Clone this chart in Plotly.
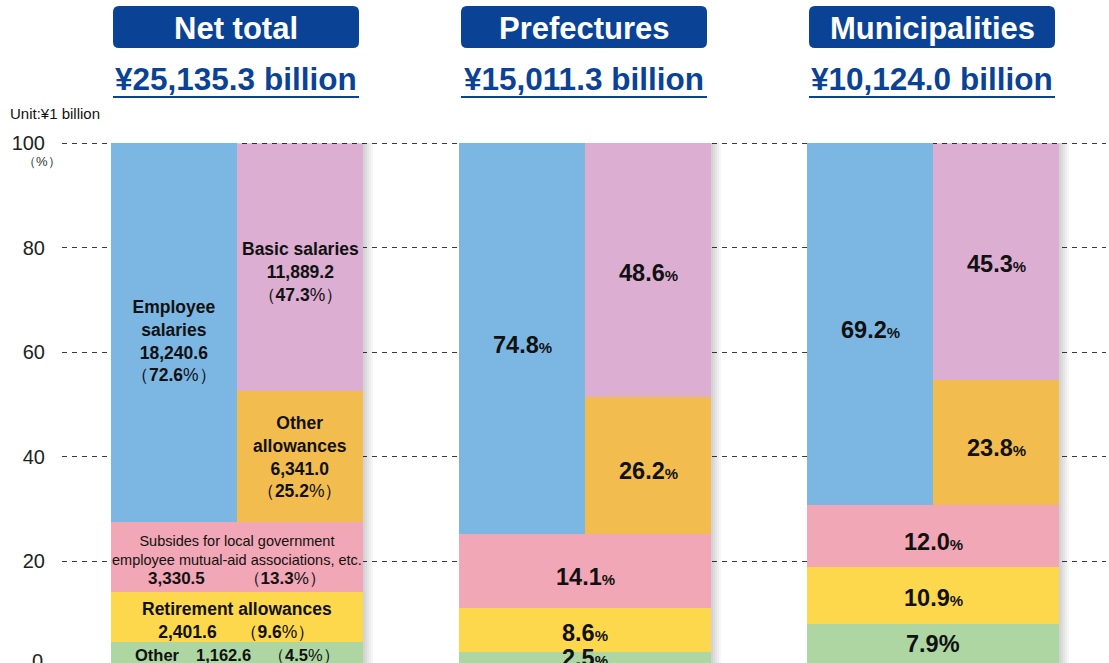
import plotly.graph_objects as go

# ---------------- data ----------------
groups = ["Net total", "Prefectures", "Municipalities"]
group_totals = ["¥25,135.3 billion", "¥15,011.3 billion", "¥10,124.0 billion"]

other_pct = [4.5, 2.5, 7.9]
retirement_pct = [9.6, 8.6, 10.9]
subsidies_pct = [13.3, 14.1, 12.0]
employee_pct = [72.6, 74.8, 69.2]
other_allow_pct = [25.2, 26.2, 23.8]
basic_pct = [47.3, 48.6, 45.3]

# Net total amounts (unit: ¥1 billion)
employee_amt = 18240.6
basic_amt = 11889.2
other_allow_amt = 6341.0
subsidies_amt = 3330.5
retirement_amt = 2401.6
other_amt = 1162.6

y_ticks = [20, 40, 60, 80, 100]
y_tick_text = ["20", "40", "60", "80", "100"]

# ---------------- layout constants ----------------
W, H = 1109, 663
ML, MR = 62, 3
GROUP_PX = 348.0          # pixels per group step
FIRST_CENTER_PX = 237.0   # pixel x of first group centre
Y_PX = 5.225              # pixels per percentage point
Y0_PX = 665.5             # pixel y of value 0
COL_W = 252.0 / GROUP_PX
HALF_W = COL_W / 2.0

C_BLUE = "#7CB7E3"
C_PURPLE = "#DBAED2"
C_ORANGE = "#F2BD4E"
C_PINK = "#F2A7B6"
C_YELLOW = "#FED84C"
C_GREEN = "#ADD6A3"
C_NAVY = "#0A4396"
C_TEXT = "#111111"
FONT = "Liberation Sans, Arial, Helvetica, sans-serif"


def xu(px):
    return px / GROUP_PX


def yu(px):
    return px / Y_PX


def yv(py):
    return (Y0_PX - py) / Y_PX


def xp(px):  # pixel x -> paper x
    return (px - ML) / (W - ML - MR)


def ypp(py):  # pixel y -> paper y
    return 1 - py / H


idx = list(range(len(groups)))
base_ret = other_pct
base_sub = [a + b for a, b in zip(other_pct, retirement_pct)]
base_top = [a + b + c for a, b, c in zip(other_pct, retirement_pct, subsidies_pct)]
base_basic = [a + b for a, b in zip(base_top, other_allow_pct)]

fig = go.Figure()

# soft drop shadows to the right of each column
for off in [2, 4, 6, 8, 10]:
    fig.add_trace(go.Bar(
        x=[i + xu(off) for i in idx],
        y=[b + e for b, e in zip(base_top, employee_pct)],
        base=[0] * 3, width=COL_W,
        marker=dict(color="rgba(0,0,0,0.035)", line=dict(width=0)),
        hoverinfo="skip", showlegend=False))


def add_bar(xs, vals, bases, width, color):
    fig.add_trace(go.Bar(
        x=xs, y=vals, base=bases, width=width,
        marker=dict(color=color, line=dict(width=0)),
        hoverinfo="skip", showlegend=False))


add_bar(idx, other_pct, [0] * 3, COL_W, C_GREEN)
add_bar(idx, retirement_pct, base_ret, COL_W, C_YELLOW)
add_bar(idx, subsidies_pct, base_sub, COL_W, C_PINK)
add_bar([i - HALF_W / 2 for i in idx], employee_pct, base_top, HALF_W, C_BLUE)
add_bar([i + HALF_W / 2 for i in idx], other_allow_pct, base_top, HALF_W, C_ORANGE)
add_bar([i + HALF_W / 2 for i in idx], basic_pct, base_basic, HALF_W, C_PURPLE)

annotations = []


def ann(x, y, text, size, color=C_TEXT, family=FONT, **kw):
    d = dict(x=x, y=y, xref="x", yref="y", text=text, showarrow=False,
             font=dict(size=size, color=color, family=family))
    d.update(kw)
    annotations.append(d)


# ---- Net total detailed labels ----
ann(0 - HALF_W / 2, base_top[0] + employee_pct[0] / 2 - 1.6,
    f"<b>Employee<br>salaries<br>{employee_amt:,.1f}</b><br>（<b>{employee_pct[0]:.1f}</b>%）", 17.5)
ann(0 + HALF_W / 2, base_basic[0] + basic_pct[0] / 2 - 0.9,
    f"<b>Basic salaries<br>{basic_amt:,.1f}</b><br>（<b>{basic_pct[0]:.1f}</b>%）", 17.5)
ann(0 + HALF_W / 2, base_top[0] + other_allow_pct[0] / 2,
    f"<b>Other<br>allowances<br>{other_allow_amt:,.1f}</b><br>（<b>{other_allow_pct[0]:.1f}</b>%）", 17.5)
ann(0, base_sub[0] + subsidies_pct[0] / 2 - 0.6,
    "Subsides for local government<br>employee mutual-aid associations, etc.<br>"
    f"<span style='font-size:17px'><b>{subsidies_amt:,.1f}</b>　　 （<b>{subsidies_pct[0]:.1f}</b>%）</span>", 14.5)
ann(0, base_ret[0] + retirement_pct[0] / 2 - 0.6,
    f"<b>Retirement allowances<br>{retirement_amt:,.1f}</b>　 （<b>{retirement_pct[0]:.1f}</b>%）", 17.5)
ann(0, other_pct[0] / 2 - 0.3,
    f"<b>Other　{other_amt:,.1f}</b>　（<b>{other_pct[0]:.1f}</b>%）", 16.5)


def big(v, small=True):
    pct = "<span style='font-size:15px'>%</span>" if small else "%"
    return f"<b>{v:.1f}{pct}</b>"


for i in [1, 2]:
    ann(i - HALF_W / 2, base_top[i] + employee_pct[i] / 2 - 1.2, big(employee_pct[i]), 23.5)
    ann(i + HALF_W / 2, base_basic[i] + basic_pct[i] / 2 - 0.5, big(basic_pct[i]), 23.5)
    ann(i + HALF_W / 2, base_top[i] + other_allow_pct[i] / 2 - 1.0, big(other_allow_pct[i]), 23.5)
    ann(i, base_sub[i] + subsidies_pct[i] / 2 - 1.2, big(subsidies_pct[i]), 23.5)
    ann(i, base_ret[i] + retirement_pct[i] / 2 - 0.5, big(retirement_pct[i]), 23.5)
    ann(i, other_pct[i] / 2 + 0.2, big(other_pct[i], small=(i == 1)), 23.5)

# ---- headers ----
shapes = []
BOX_L, BOX_R, BOX_T, BOX_B, R = -124.0, 122.0, 6.0, 48.0, 6.0
for i, (g, tot) in enumerate(zip(groups, group_totals)):
    x0, x1 = i + xu(BOX_L), i + xu(BOX_R)
    yt, yb = yv(BOX_T), yv(BOX_B)
    rx, ry = xu(R), yu(R)
    path = (f"M {x0 + rx},{yt} L {x1 - rx},{yt} Q {x1},{yt} {x1},{yt - ry} "
            f"L {x1},{yb + ry} Q {x1},{yb} {x1 - rx},{yb} "
            f"L {x0 + rx},{yb} Q {x0},{yb} {x0},{yb + ry} "
            f"L {x0},{yt - ry} Q {x0},{yt} {x0 + rx},{yt} Z")
    shapes.append(dict(type="path", path=path, xref="x", yref="y",
                       fillcolor=C_NAVY, line=dict(width=0), layer="above"))
    ann(i + xu((BOX_L + BOX_R) / 2), yv(28), f"<b>{g}</b>", 31, color="white")
    ann(i + xu((BOX_L + BOX_R) / 2), yv(79), f"<b>{tot}</b>", 31.5, color=C_NAVY)
    shapes.append(dict(type="line", xref="x", yref="y",
                       x0=x0, x1=x1, y0=yv(97), y1=yv(97),
                       line=dict(color=C_NAVY, width=2), layer="above"))

x_min = xu(ML - FIRST_CENTER_PX)
x_max = xu(W - MR - FIRST_CENTER_PX)

# unit note, (%) and the partially visible zero label (paper coordinates)
annotations.append(dict(x=xp(8), y=ypp(113), xref="paper", yref="paper",
                        text="Unit:¥1 billion", showarrow=False,
                        xanchor="left", yanchor="middle",
                        font=dict(size=15, color=C_TEXT, family=FONT)))
annotations.append(dict(x=xp(21), y=ypp(161), xref="paper", yref="paper",
                        text="（%）", showarrow=False, yanchor="middle",
                        font=dict(size=13, color="#333333", family=FONT)))
annotations.append(dict(x=xp(45), y=ypp(661), xref="paper", yref="paper",
                        text="0", showarrow=False, xanchor="right", yanchor="middle",
                        font=dict(size=20, color="#222222", family=FONT)))

fig.update_layout(
    width=W, height=H,
    margin=dict(l=ML, r=MR, t=0, b=0),
    paper_bgcolor="white", plot_bgcolor="white",
    barmode="overlay", bargap=0,
    showlegend=False,
    font=dict(family=FONT, color=C_TEXT),
    xaxis=dict(range=[x_min, x_max], showgrid=False, zeroline=False,
               showticklabels=False, ticks="", fixedrange=True),
    yaxis=dict(range=[yv(H), yv(0)], tickvals=y_ticks, ticktext=y_tick_text,
               showgrid=True, gridcolor="#3a3a3a", gridwidth=1, griddash="5px,5px",
               zeroline=False, ticks="", ticklabelstandoff=16,
               tickfont=dict(size=20, color="#222222", family=FONT),
               fixedrange=True),
    shapes=shapes,
    annotations=annotations,
)

fig.write_html("out.html", config={"displayModeBar": False},
               post_script="document.body.style.margin='0';document.body.style.overflow='hidden';")
